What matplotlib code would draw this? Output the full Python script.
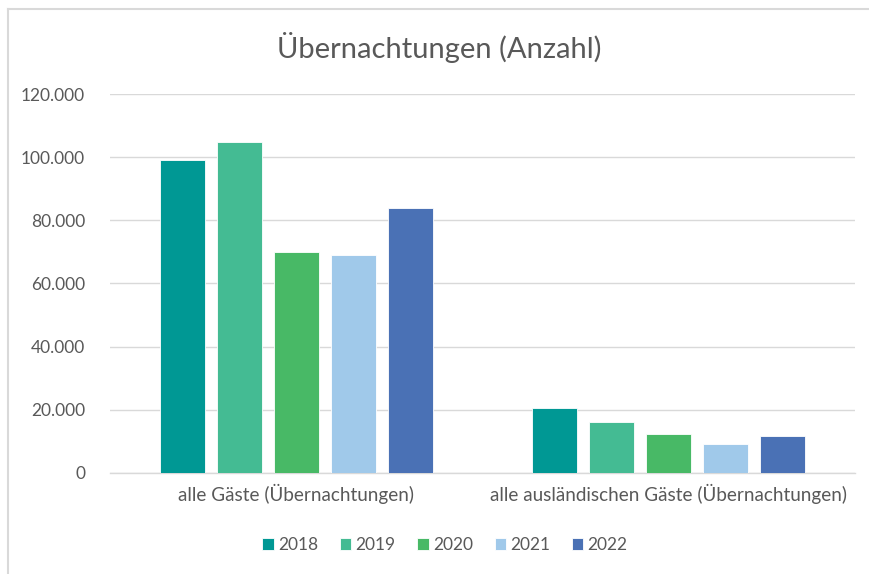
import numpy as np
import matplotlib
matplotlib.use('Agg')
import matplotlib.pyplot as plt
from matplotlib.ticker import FuncFormatter
from matplotlib.lines import Line2D

plt.rcParams['font.family'] = ['Lato', 'DejaVu Sans']

categories = ['alle Gäste (Übernachtungen)', 'alle ausländischen Gäste (Übernachtungen)']
years = ['2018', '2019', '2020', '2021', '2022']
values = {
    '2018': [99200, 20600],
    '2019': [104700, 16300],
    '2020': [70100, 12500],
    '2021': [69000, 9100],
    '2022': [83800, 11800],
}
colors = ['#009894', '#44BB93', '#48B966', '#A0C9EA', '#4A71B5']

TEXT = '#595959'
GRID = '#D9D9D9'

fig = plt.figure(figsize=(8.69, 5.74), dpi=100)
ax = fig.add_axes([0.1266, 0.176, 0.8573, 0.6602])

x = np.arange(len(categories))
step = 0.153
width = 0.1208
for i, yr in enumerate(years):
    ax.bar(x + (i - 2) * step, values[yr], width, color=colors[i],
           edgecolor='white', linewidth=0.6, label=yr, zorder=3)

ax.set_xlim(-0.5, 1.5)
ax.set_ylim(0, 120000)
ax.set_yticks(np.arange(0, 120001, 20000))
ax.yaxis.set_major_formatter(FuncFormatter(lambda v, p: f'{int(v):,}'.replace(',', '.')))
ax.set_xticks(x)
ax.set_xticklabels(categories)

ax.grid(axis='y', color=GRID, linewidth=1, zorder=0)
for s in ['top', 'right', 'left']:
    ax.spines[s].set_visible(False)
ax.spines['bottom'].set_color(GRID)
ax.spines['bottom'].set_linewidth(1)
ax.tick_params(axis='both', length=0, colors=TEXT, labelsize=12.5)
ax.tick_params(axis='x', labelsize=13.6, pad=8)
ax.tick_params(axis='y', pad=18)

fig.text(0.506, 0.918, 'Übernachtungen (Anzahl)', ha='center', va='center',
         fontsize=21, color=TEXT)

fig.legend(loc='center', bbox_to_anchor=(0.512, 0.05), ncol=5, frameon=False,
           fontsize=12.5, labelcolor=TEXT, handlelength=0.65, handleheight=0.65,
           handletextpad=0.25, columnspacing=1.25)

# chart frame (top and left edge)
fig.add_artist(Line2D([8 / 869, 8 / 869], [0, 1 - 9 / 574], transform=fig.transFigure,
                      color=GRID, linewidth=1.5))
fig.add_artist(Line2D([8 / 869, 1], [1 - 9 / 574, 1 - 9 / 574], transform=fig.transFigure,
                      color=GRID, linewidth=1.5))

fig.savefig('out.png', dpi=100)
